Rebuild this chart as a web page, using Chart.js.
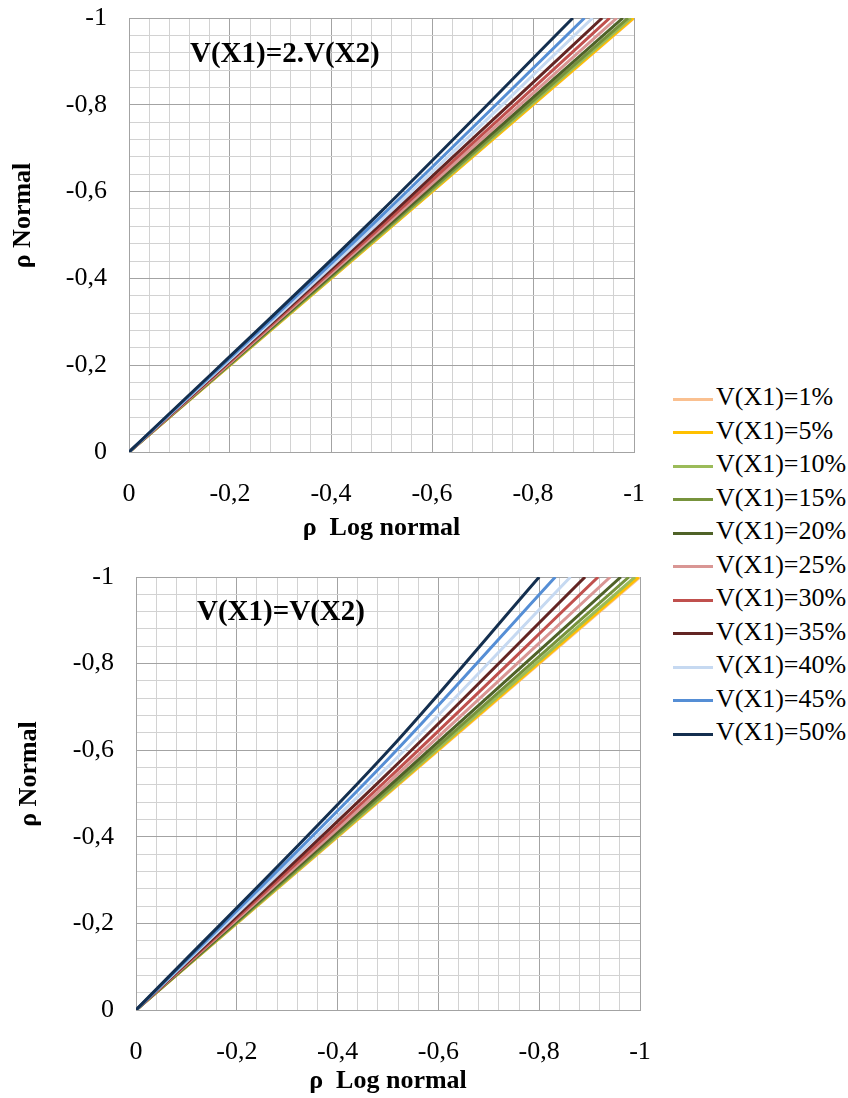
<!DOCTYPE html>
<html>
<head>
<meta charset="utf-8">
<script src="https://cdn.jsdelivr.net/npm/chart.js@4/dist/chart.umd.min.js"></script>
<style>
  html, body { margin: 0; padding: 0; background: #fff; overflow: hidden; }
  body { width: 848px; height: 1098px; position: relative; }
  #top { position: absolute; left: 0; top: 0; }
  #bottom { position: absolute; left: 0; top: 550px; }
  #legend { position: absolute; left: 673px; top: 380px; font-family: "Liberation Serif", serif; font-size: 26px; color: #000; }
  .row { height: 33.5px; line-height: 33.5px; white-space: nowrap; }
  .swatch { display: inline-block; width: 40px; height: 3px; vertical-align: middle; margin-right: 3px; }
</style>
</head>
<body>
<canvas id="top" width="660" height="551"></canvas>
<canvas id="bottom" width="666" height="559"></canvas>
<div id="legend"></div>
<script>
// series names and colours
const seriesNames = ['V(X1)=1%', 'V(X1)=5%', 'V(X1)=10%', 'V(X1)=15%', 'V(X1)=20%', 'V(X1)=25%',
  'V(X1)=30%', 'V(X1)=35%', 'V(X1)=40%', 'V(X1)=45%', 'V(X1)=50%'];
const seriesColors = ['#FAC090', '#FFC000', '#9BBB59', '#77933C', '#4F6228', '#D99694',
  '#C0504D', '#632523', '#C6D9F1', '#558ED5', '#142F4F'];

// x where each curve reaches rho Normal = -1, and rho Normal read at rho Log normal = -0.5
const midX = -0.5;
// V(X1)=2.V(X2)
const topEndX = [-1.0, -0.999, -0.994, -0.988, -0.978, -0.966, -0.952, -0.937, -0.918, -0.902, -0.879];
const topMidY = [-0.500, -0.500, -0.502, -0.505, -0.509, -0.514, -0.520, -0.527, -0.535, -0.544, -0.555];
// V(X1)=V(X2)
const botEndX = [-1.0, -0.997, -0.990, -0.978, -0.962, -0.941, -0.917, -0.891, -0.862, -0.832, -0.800];
const botMidY = [-0.500, -0.501, -0.503, -0.508, -0.515, -0.524, -0.534, -0.547, -0.562, -0.579, -0.598];

Chart.defaults.font.family = '"Liberation Serif", "Times New Roman", serif';
Chart.defaults.color = '#000';

const tickLabel = (v) => {
  const k = Math.round(v * 25);
  if (k % 5 !== 0) return '';
  return String(k / 25).replace('.', ',');
};
const gridColor = (ctx) => (Math.round(ctx.tick.value * 25) % 5 === 0 ? '#a3a3a3' : '#d2d2d2');

const panelLabel = {
  id: 'panelLabel',
  afterDraw(chart, args, opts) {
    const c = chart.ctx;
    c.save();
    c.font = 'bold 29px "Liberation Serif", serif';
    c.fillStyle = '#000';
    c.textBaseline = 'middle';
    c.fillText(opts.text, chart.chartArea.left + opts.dx, chart.chartArea.top + opts.dy);
    c.restore();
  }
};

function makeChart(id, endX, midY, o) {
  const datasets = seriesNames.map((name, i) => ({
    label: name,
    data: [{x: 0, y: 0}, {x: midX, y: midY[i]}, {x: endX[i], y: -1}],
    borderColor: seriesColors[i],
    borderWidth: 3,
    pointRadius: 0,
    cubicInterpolationMode: 'monotone',
    order: seriesNames.length - i
  }));
  return new Chart(document.getElementById(id), {
    type: 'line',
    data: { datasets },
    plugins: [panelLabel],
    options: {
      responsive: false,
      animation: false,
      layout: { padding: { top: o.padTop, right: 26, left: 0, bottom: 0 } },
      plugins: {
        legend: { display: false },
        tooltip: { enabled: false },
        panelLabel: { text: o.label, dx: 61, dy: o.labelDy }
      },
      scales: {
        x: {
          type: 'linear', min: -1, max: 0, reverse: true,
          afterFit: (s) => { s.height = 99; s.paddingLeft = 0; s.paddingRight = 0; },
          grid: { color: gridColor, drawTicks: false, lineWidth: 1 },
          border: { color: '#a3a3a3' },
          ticks: { stepSize: 0.04, autoSkip: false, maxRotation: 0, padding: 27, font: { size: 26 }, callback: tickLabel },
          title: { display: true, text: 'ρ  Log normal', font: { size: 26, weight: 'bold' }, padding: { top: 0, bottom: o.xTitlePad } }
        },
        y: {
          type: 'linear', min: -1, max: 0, reverse: true,
          afterFit: (s) => { s.width = o.yWidth; s.paddingTop = 0; s.paddingBottom = 0; },
          grid: { color: gridColor, drawTicks: false, lineWidth: 1 },
          border: { color: '#a3a3a3' },
          ticks: { stepSize: 0.04, autoSkip: false, padding: 22, font: { size: 26 }, callback: tickLabel },
          title: { display: true, text: '      ρ Normal', font: { size: 26, weight: 'bold' }, padding: { top: o.yTitlePad, bottom: 0 } }
        }
      }
    }
  });
}

makeChart('top', topEndX, topMidY, { padTop: 18, yWidth: 129, yTitlePad: 8, xTitlePad: 7, label: 'V(X1)=2.V(X2)', labelDy: 37 });
makeChart('bottom', botEndX, botMidY, { padTop: 27, yWidth: 136, yTitlePad: 14, xTitlePad: 12, label: 'V(X1)=V(X2)', labelDy: 36 });

// legend
const legend = document.getElementById('legend');
seriesNames.forEach((name, i) => {
  const row = document.createElement('div');
  row.className = 'row';
  const sw = document.createElement('span');
  sw.className = 'swatch';
  sw.style.background = seriesColors[i];
  row.appendChild(sw);
  row.appendChild(document.createTextNode(name));
  legend.appendChild(row);
});
</script>
</body>
</html>
